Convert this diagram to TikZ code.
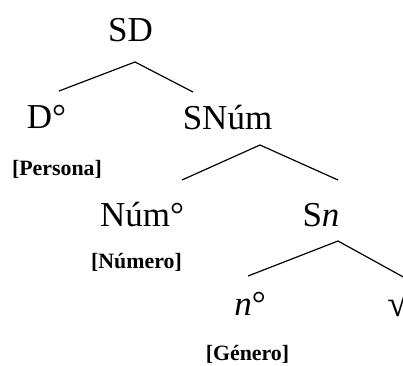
\documentclass[tikz,border=0pt]{standalone}
\usepackage{fontspec}
\setmainfont{Liberation Serif}

\tikzset{
  cat/.style={anchor=base, inner sep=0pt, font=\fontsize{26.25}{30}\selectfont},
  feat/.style={anchor=base, inner sep=0pt, font=\fontsize{16.4}{19}\selectfont\bfseries},
  branch/.style={line width=0.9pt, line join=miter},
}

\begin{document}
\begin{tikzpicture}[x=0.75pt,y=0.75pt,yscale=-1,xscale=1]
\path[use as bounding box] (0,0) rectangle (403,365);
\clip (0,0) rectangle (403,365);

% Text Node
\node[cat] (SD) at (130.5,41) {SD};
% Text Node
\node[cat] (D) at (46.5,128) {D°};
% Text Node
\node[feat] (Persona) at (57,175) {[Persona]};
% Text Node
\node[cat] (SNum) at (227.5,129) {SNúm};
% Text Node
\node[cat] (Num) at (142,226) {Núm°};
% Text Node
\node[feat] (Numero) at (136.5,268) {[Número]};
% Text Node
\node[cat] (Sn) at (321,226) {S\textit{n}};
% Text Node
\node[cat] (n) at (250,315) {\textit{n}°};
% Text Node
\node[cat, anchor=base west, font=\fontsize{28}{30}\selectfont] (raiz) at (387,316) {√};
% Text Node
\node[feat] (Genero) at (247.5,360) {[Género]};

% Branch points
\coordinate (SD-top) at (135,62);
\coordinate (SD-l) at (59,91);
\coordinate (SD-r) at (193,92);
\coordinate (SNum-top) at (260,145);
\coordinate (SNum-l) at (182,180);
\coordinate (SNum-r) at (338,180);
\coordinate (Sn-top) at (338,241);
\coordinate (Sn-l) at (248,276);
\coordinate (Sn-r) at (416,284);

% Lines
\draw[branch] (SD-l) -- (SD-top) -- (SD-r);
\draw[branch] (SNum-l) -- (SNum-top) -- (SNum-r);
\draw[branch] (Sn-l) -- (Sn-top) -- (Sn-r);

\end{tikzpicture}
\end{document}
